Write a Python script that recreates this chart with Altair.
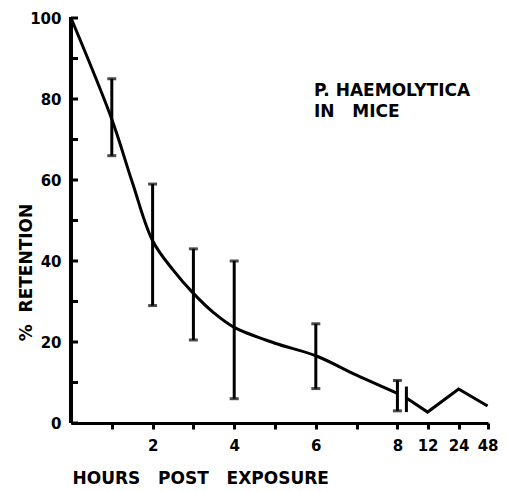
import altair as alt
import pandas as pd

# ---- data ----
# fitted curve
curve_h = [0, 1, 1.5, 2, 2.5, 3, 3.5, 4, 5, 6, 7, 8]
curve_r = [100, 75, 59.5, 45, 37.8, 32, 27.2, 23.6, 19.7, 16.6, 11.8, 7.3]
# error bars (mean +/- range)
err_hours = [1, 2, 3, 4, 6, 8]
err_hi = [85, 59, 43, 40, 24.5, 10.5]
err_lo = [66, 29, 20.5, 6, 8.5, 3]

# after the axis break (12, 24, 48 h plotted on a compressed scale)
late_pos = [8.22, 8.74, 9.5, 10.21]
late_val = [6.2, 2.7, 8.4, 4.2]
break_pos = [8.22]
break_lo = [2.7]
break_hi = [9.0]

x_tick_pos = [1, 2, 3, 4, 5, 6, 7, 8, 8.74, 9.5, 10.21]
x_tick_lab = ["", "2", "", "4", "", "6", "", "8", "12", "24", "48"]
y_tick_vals = [0, 10, 20, 30, 40, 50, 60, 70, 80, 90, 100]
y_label_vals = [0, 20, 40, 60, 80, 100]
note_lines = ["P.\u00a0HAEMOLYTICA", "IN\u00a0\u00a0\u00a0MICE"]
x_title = "HOURS\u00a0\u00a0\u00a0POST\u00a0\u00a0\u00a0EXPOSURE"
y_title = "%\u00a0\u00a0RETENTION"

FONT = "DejaVu Sans"
W, H = 417, 405

main = pd.DataFrame({"h": curve_h, "r": curve_r})
errs = pd.DataFrame({"h": err_hours, "hi": err_hi, "lo": err_lo})
late = pd.DataFrame({"h": late_pos, "r": late_val})
brk = pd.DataFrame({"h": break_pos, "lo": break_lo, "hi": break_hi})
yt = pd.DataFrame({"v": y_tick_vals})

lab_map = "{" + ",".join(f"'{p}':'{l}'" for p, l in zip(x_tick_pos, x_tick_lab)) + "}"

xs = alt.Scale(domain=[0, 10.22], nice=False, zero=False)
ys = alt.Scale(domain=[0, 100], nice=False)

x_axis = alt.Axis(
    values=x_tick_pos,
    labelExpr=f"{lab_map}[''+datum.value]",
    title=x_title,
    titleAnchor="start",
    titleAlign="left",
    titleX=1,
    titleY=55,
    titleBaseline="middle",
    titleFont=FONT,
    titleFontSize=17,
    titleFontWeight="bold",
    labelFont=FONT,
    labelFontSize=15,
    labelFontWeight="bold",
    labelColor="black",
    titleColor="black",
    domainColor="black",
    domainWidth=3,
    tickColor="black",
    tickWidth=3,
    tickSize=6,
    labelPadding=9,
    grid=False,
    labelFlush=False,
    labelOverlap=False,
)

y_axis = alt.Axis(
    values=y_label_vals,
    title=y_title,
    titleX=-45,
    titleY=254,
    titleAngle=-90,
    titleAlign="center",
    titleBaseline="middle",
    titleFont=FONT,
    titleFontSize=17,
    titleFontWeight="bold",
    labelFont=FONT,
    labelFontSize=15,
    labelFontWeight="bold",
    labelColor="black",
    titleColor="black",
    domain=False,
    ticks=False,
    labelPadding=10,
    grid=False,
)

line = alt.Chart(main).mark_line(color="black", strokeWidth=3, interpolate="catmull-rom").encode(
    x=alt.X("h:Q", scale=xs, axis=x_axis),
    y=alt.Y("r:Q", scale=ys, axis=y_axis),
)

bars = alt.Chart(errs).mark_rule(color="black", strokeWidth=3).encode(
    x=alt.X("h:Q"), y=alt.Y("lo:Q"), y2="hi:Q"
)
caps_hi = alt.Chart(errs).mark_tick(color="black", orient="horizontal", thickness=3, size=9).encode(
    x=alt.X("h:Q"), y=alt.Y("hi:Q")
)
caps_lo = alt.Chart(errs).mark_tick(color="black", orient="horizontal", thickness=3, size=9).encode(
    x=alt.X("h:Q"), y=alt.Y("lo:Q")
)

late_line = alt.Chart(late).mark_line(color="black", strokeWidth=3).encode(
    x=alt.X("h:Q"), y=alt.Y("r:Q")
)
brk_rule = alt.Chart(brk).mark_rule(color="black", strokeWidth=3).encode(
    x=alt.X("h:Q"), y=alt.Y("lo:Q"), y2="hi:Q"
)

yticks = alt.Chart(yt).mark_rule(color="black", strokeWidth=3).encode(
    x=alt.value(0), x2=alt.value(7), y=alt.Y("v:Q")
)
y_domain = alt.Chart(yt).mark_rule(color="black", strokeWidth=3).encode(
    x=alt.value(0), y=alt.value(-1), y2=alt.value(H)
)

note1 = alt.Chart(pd.DataFrame({"t": [note_lines[0]]})).mark_text(
    align="left", baseline="middle", font=FONT, fontSize=17, fontWeight="bold", color="black"
).encode(x=alt.value(243), y=alt.value(73), text="t:N")
note2 = alt.Chart(pd.DataFrame({"t": [note_lines[1]]})).mark_text(
    align="left", baseline="middle", font=FONT, fontSize=17, fontWeight="bold", color="black"
).encode(x=alt.value(243), y=alt.value(94), text="t:N")

chart = alt.layer(line, y_domain, yticks, bars, caps_hi, caps_lo, late_line, brk_rule, note1, note2).properties(
    width=W, height=H,
    background="white",
    autosize=alt.AutoSizeParams(type="none"),
    padding={"left": 63, "top": 10, "right": 12, "bottom": 68},
).configure_view(stroke=None)

chart.save("out.html", embed_options={"renderer": "svg", "actions": False})
